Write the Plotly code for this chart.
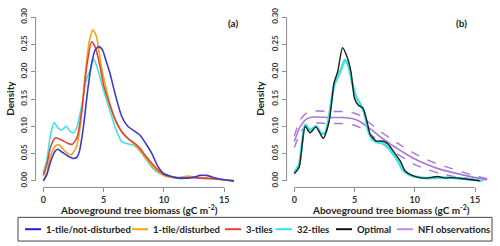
import plotly.graph_objects as go

# ---------------- data ----------------
# Panel (a)
a_blue_x = [0, 0.3, 0.6, 1.0, 1.2, 1.6, 2.0, 2.5, 2.8, 3.0, 3.3, 3.7, 4.0, 4.3, 4.6, 4.9, 5.2, 5.5, 6.0, 6.5, 7.0, 7.5, 8.0, 8.5, 9.0, 9.5, 10.0, 10.5, 11.0, 11.5, 12.0, 12.5, 13.0, 13.5, 14.0, 14.5, 15.0, 15.8]
a_blue_y = [0.0, 0.012, 0.035, 0.055, 0.058, 0.052, 0.046, 0.041, 0.044, 0.055, 0.095, 0.170, 0.215, 0.240, 0.246, 0.240, 0.220, 0.199, 0.155, 0.118, 0.100, 0.092, 0.084, 0.068, 0.050, 0.026, 0.013, 0.009, 0.006, 0.005, 0.005, 0.007, 0.010, 0.010, 0.007, 0.004, 0.002, 0.0]

a_orange_x = [0, 0.3, 0.6, 1.0, 1.3, 1.8, 2.3, 2.7, 3.0, 3.4, 3.8, 4.1, 4.4, 4.8, 5.2, 5.6, 6.0, 6.5, 7.0, 7.5, 8.0, 8.5, 9.0, 9.5, 10.0, 10.5, 11.0, 11.5, 12.0, 12.5, 13.0, 13.5, 14.0, 14.5, 15.0, 15.8]
a_orange_y = [0.0, 0.015, 0.045, 0.064, 0.066, 0.054, 0.048, 0.060, 0.090, 0.180, 0.255, 0.277, 0.265, 0.210, 0.170, 0.135, 0.110, 0.090, 0.078, 0.068, 0.056, 0.042, 0.028, 0.017, 0.010, 0.007, 0.006, 0.007, 0.009, 0.007, 0.005, 0.004, 0.004, 0.003, 0.002, 0.0]

a_red_x = [0, 0.3, 0.6, 1.0, 1.5, 2.0, 2.4, 2.8, 3.2, 3.6, 4.0, 4.3, 4.7, 5.0, 5.5, 6.0, 6.5, 7.0, 7.5, 8.0, 8.5, 9.0, 9.5, 10.0, 10.5, 11.0, 11.5, 12.0, 12.5, 13.0, 13.5, 14.0, 14.5, 15.0, 15.8]
a_red_y = [0.010, 0.030, 0.062, 0.079, 0.075, 0.069, 0.067, 0.080, 0.130, 0.210, 0.255, 0.245, 0.210, 0.175, 0.140, 0.110, 0.090, 0.078, 0.070, 0.060, 0.045, 0.032, 0.020, 0.012, 0.008, 0.006, 0.005, 0.006, 0.006, 0.005, 0.005, 0.004, 0.003, 0.002, 0.0]

a_cyan_x = [0, 0.3, 0.6, 0.9, 1.2, 1.5, 1.9, 2.2, 2.5, 2.8, 3.2, 3.5, 3.9, 4.2, 4.5, 5.0, 5.5, 6.0, 6.5, 7.0, 7.5, 8.0, 8.5, 9.0, 9.5, 10.0, 10.5, 11.0, 11.5, 12.0, 12.5, 13.0, 14.0, 15.0, 15.8]
a_cyan_y = [0.015, 0.040, 0.085, 0.107, 0.097, 0.093, 0.100, 0.091, 0.088, 0.100, 0.140, 0.180, 0.205, 0.223, 0.205, 0.165, 0.130, 0.095, 0.072, 0.068, 0.065, 0.055, 0.040, 0.025, 0.015, 0.010, 0.007, 0.005, 0.004, 0.005, 0.006, 0.005, 0.004, 0.002, 0.0]

# Panel (b)
b_cyan_x = [0, 0.4, 0.9, 1.3, 1.8, 2.3, 2.6, 2.9, 3.3, 3.6, 3.9, 4.2, 4.5, 4.8, 5.1, 5.5, 5.8, 6.1, 6.5, 7.0, 7.5, 8.0, 8.5, 9.0, 9.5, 10.0, 11.0, 12.0, 13.0, 14.0, 15.0, 15.6]
b_cyan_y = [0.015, 0.030, 0.103, 0.093, 0.100, 0.086, 0.090, 0.120, 0.175, 0.190, 0.205, 0.222, 0.210, 0.180, 0.155, 0.140, 0.125, 0.095, 0.075, 0.070, 0.068, 0.055, 0.040, 0.020, 0.012, 0.008, 0.005, 0.006, 0.006, 0.004, 0.002, 0.0]

b_black_x = [0, 0.4, 0.9, 1.3, 1.8, 2.4, 2.9, 3.3, 3.6, 4.0, 4.4, 4.7, 5.0, 5.3, 5.7, 6.0, 6.3, 6.8, 7.1, 7.5, 7.8, 8.2, 8.8, 9.2, 9.6, 10.4, 11.0, 11.9, 12.5, 13.0, 14.0, 15.4]
b_black_y = [0.013, 0.025, 0.100, 0.088, 0.099, 0.078, 0.110, 0.180, 0.200, 0.244, 0.226, 0.200, 0.151, 0.139, 0.133, 0.112, 0.085, 0.073, 0.073, 0.072, 0.067, 0.055, 0.036, 0.018, 0.012, 0.006, 0.005, 0.008, 0.005, 0.006, 0.004, 0.0]

nfi_x = [0, 0.5, 1, 1.5, 2, 3, 4, 5, 5.5, 6, 6.5, 7, 7.5, 8, 8.5, 9, 10, 11, 12, 13, 14, 15, 16]
nfi_mid = [0.072, 0.100, 0.113, 0.117, 0.117, 0.116, 0.116, 0.113, 0.108, 0.100, 0.092, 0.083, 0.075, 0.067, 0.060, 0.053, 0.040, 0.030, 0.022, 0.016, 0.011, 0.006, 0.003]
nfi_up = [0.082, 0.112, 0.124, 0.128, 0.128, 0.127, 0.127, 0.124, 0.119, 0.110, 0.102, 0.093, 0.085, 0.077, 0.070, 0.063, 0.050, 0.039, 0.030, 0.023, 0.016, 0.009, 0.004]
nfi_lo = [0.061, 0.088, 0.102, 0.106, 0.106, 0.105, 0.105, 0.102, 0.097, 0.090, 0.082, 0.073, 0.065, 0.057, 0.050, 0.043, 0.030, 0.021, 0.014, 0.009, 0.006, 0.003, 0.002]

x_ticks = [0, 5, 10, 15]
y_ticks = [0.00, 0.05, 0.10, 0.15, 0.20, 0.25, 0.30]
legend_labels = ["1-tile/not-disturbed", "1-tile/disturbed", "3-tiles", "32-tiles", "Optimal", "NFI observations"]

# ---------------- styles ----------------
C_BLUE = "#3b3bcc"
C_ORANGE = "#f5a31a"
C_RED = "#e2443c"
C_CYAN = "#3fe3e3"
C_BLACK = "#1e1e1e"
C_PURPLE = "#a877d8"
legend_colors = ["#1f1fe0", "#ffa500", "#f03c3c", "#33e6e6", "#111111", "#c38be6"]
FONT = "Lato, Liberation Sans, sans-serif"
AX = "#8c8c8c"
W, H = 500, 246

fig = go.Figure()

def line(x, y, color, width, xa, ya, dash="solid"):
    fig.add_trace(go.Scatter(x=x, y=y, mode="lines", line=dict(color=color, width=width, dash=dash, shape="spline", smoothing=0.6),
                             xaxis=xa, yaxis=ya, showlegend=False, hoverinfo="skip"))

line(a_cyan_x, a_cyan_y, C_CYAN, 1.6, "x", "y")
line(a_orange_x, a_orange_y, C_ORANGE, 1.6, "x", "y")
line(a_red_x, a_red_y, C_RED, 1.6, "x", "y")
line(a_blue_x, a_blue_y, C_BLUE, 1.6, "x", "y")

line(nfi_x, nfi_up, C_PURPLE, 1.4, "x2", "y2", "dash")
line(nfi_x, nfi_lo, C_PURPLE, 1.4, "x2", "y2", "dash")
line(nfi_x, nfi_mid, C_PURPLE, 1.6, "x2", "y2")
line(b_cyan_x, b_cyan_y, C_CYAN, 2.6, "x2", "y2")
line(b_black_x, b_black_y, C_BLACK, 1.4, "x2", "y2")

ydom = [(246 - 186.7) / H, (246 - 7.7) / H]
tickf = dict(family=FONT, size=8, color="#333", weight="bold")
xcommon = dict(tickvals=x_ticks, ticktext=[str(v) for v in x_ticks], ticks="outside", ticklen=4, tickcolor=AX,
               showgrid=False, zeroline=False, showline=False, tickfont=dict(family=FONT, size=9, color="#333", weight="bold"),
               fixedrange=True)
ycommon = dict(range=[-0.012, 0.312], domain=ydom, tickvals=y_ticks, ticktext=["%.2f" % v for v in y_ticks],
               ticks="outside", ticklen=4, tickcolor=AX, showgrid=False, zeroline=False, showline=False,
               tickangle=-90, tickfont=tickf, fixedrange=True)

fig.update_layout(
    width=W, height=H, margin=dict(l=0, r=0, t=0, b=0),
    paper_bgcolor="white", plot_bgcolor="white", showlegend=False,
    xaxis=dict(xcommon, range=[-0.64, 16.44], domain=[35.6 / W, 241.7 / W], anchor="y"),
    yaxis=dict(ycommon, anchor="x"),
    xaxis2=dict(xcommon, range=[-0.64, 16.64], domain=[286.6 / W, 494.8 / W], anchor="y2"),
    yaxis2=dict(ycommon, anchor="x2"),
)

shapes = []
annos = []
for xa, ya in (("x", "y"), ("x2", "y2")):
    shapes.append(dict(type="line", xref=xa, x0=x_ticks[0], x1=x_ticks[-1], yref=ya + " domain", y0=0, y1=0,
                       line=dict(color=AX, width=1)))
    shapes.append(dict(type="line", xref=xa + " domain", x0=0, x1=0, yref=ya, y0=y_ticks[0], y1=y_ticks[-1],
                       line=dict(color=AX, width=1)))

title_font = dict(family=FONT, size=10, color="#222", weight="bold")
for xa in ("x", "x2"):
    annos.append(dict(text="Aboveground tree biomass (gC m<sup>-2</sup>)", xref=xa + " domain", x=0.5, yref="paper",
                      y=(246 - 209) / H, xanchor="center", yanchor="middle", showarrow=False, font=title_font))
for xpx, lab in ((233, "(a)"), (461, "(b)")):
    annos.append(dict(text=lab, xref="paper", x=xpx / W, yref="paper", y=(246 - 20) / H,
                      xanchor="center", yanchor="middle", showarrow=False, font=dict(family=FONT, size=10, color="#222", weight="bold")))
for xpx in (10, 260):
    annos.append(dict(text="Density", xref="paper", x=xpx / W, yref="paper", y=(246 - 97) / H, textangle=-90,
                      xanchor="center", yanchor="middle", showarrow=False, font=title_font))

# legend (drawn as a framed row)
shapes.append(dict(type="rect", xref="paper", yref="paper", x0=18 / W, x1=492 / W, y0=(246 - 241) / H, y1=(246 - 217) / H,
                   line=dict(color="#444", width=1), fillcolor="rgba(0,0,0,0)"))
leg_start = [25, 132, 225, 276, 336, 397]
ly = (246 - 229) / H
for xs, lab, col in zip(leg_start, legend_labels, legend_colors):
    shapes.append(dict(type="line", xref="paper", yref="paper", x0=xs / W, x1=(xs + 16) / W, y0=ly, y1=ly,
                       line=dict(color=col, width=2)))
    annos.append(dict(text=lab, xref="paper", yref="paper", x=(xs + 19) / W, y=ly, xanchor="left", yanchor="middle",
                      showarrow=False, font=dict(family=FONT, size=9.5, color="#222", weight="bold")))

fig.update_layout(shapes=shapes, annotations=annos)
fig.write_html("out.html", config={"displayModeBar": False},
               post_script="document.body.style.margin='0';document.body.style.padding='0';")
